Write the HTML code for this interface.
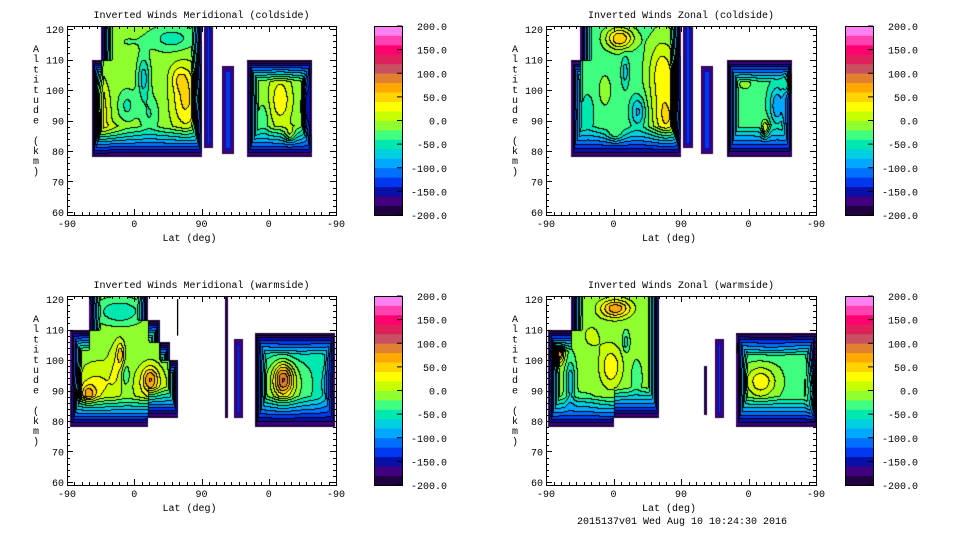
<!DOCTYPE html>
<html><head><meta charset="utf-8">
<style>
html,body{margin:0;padding:0;background:#fff;}
body{width:960px;height:540px;position:relative;overflow:hidden;font-family:"Liberation Mono",monospace;}
canvas{position:absolute;}
svg{position:absolute;left:0;top:0;}
svg text{font-family:"Liberation Mono",monospace;font-size:10px;fill:#000;}
</style></head>
<body>
<svg id="ov" width="960" height="540"></svg>
<script>
const levelColors=["#200040","#400080","#0810a8","#0038f0","#0070ff","#00a8ff","#00d0e0","#00e8b0","#40ff80","#90ff30","#c8ff00","#ffff00","#ffd400","#ffa800","#e08030","#c85060","#e0205a","#ff0070","#ff40b0","#ff80f0"];
const cbTicks=[200,150,100,50,0,-50,-100,-150,-200];
const yTicks=[60,70,80,90,100,110,120];
const xTickPos=[0,90,180,270,360];
const xTickLabels=["-90","0","90","0","-90"];

// ---- Panel 1: Meridional coldside ----
const mcSegX0=[33,45,183,207,241], mcSegX1=[180,180,196,223,328];
const mcSegA0=[78,78,81,79,78], mcSegA1=[110,121,121,108,110];
const mcSegBase=[-10,-10,-130,-140,-10];
const mcBlobX=[37,45,60,102,80,110,158,150,140,80,285,298,320,262];
const mcBlobAlt=[98,92,86,104,95,92,97,104,117,116,97,85,95,90];
const mcBlobVal=[80,40,25,-60,-35,-30,55,30,-40,-10,45,70,-110,-25];
const mcBlobRx=[8,12,20,8,12,12,18,12,30,20,14,8,5,8];
const mcBlobRy=[6,10,3,7,5,6,10,4,4,3,8,2.5,8,6];

// ---- Panel 2: Zonal coldside ----
const zcSegX0=[33,45,183,207,241], zcSegX1=[180,180,196,223,328];
const zcSegA0=[78,78,81,79,78], zcSegA1=[110,121,121,108,110];
const zcSegBase=[-30,-30,-130,-140,-35];
const zcBlobX=[155,160,98,105,122,78,92,55,308,292,322,265];
const zcBlobAlt=[105,90,117,106,93,100,85,92,95,87,102,102];
const zcBlobVal=[65,60,90,-40,-55,25,55,-20,-65,70,110,25];
const zcBlobRx=[20,18,18,5,10,8,12,10,10,5,5,10];
const zcBlobRy=[12,8,3.5,5,5,5,2.5,8,6,3,3,2];

// ---- Panel 3: Meridional warmside ----
const mwSegX0=[4,30,91,91,91,211,223,251], mwSegX1=[91,108,124,138,148,215,235,359];
const mwSegA0=[78,78,81,81,81,81,81,78], mwSegA1=[110,121,113,106,100,121,107,109];
const mwSegBase=[-10,-10,-10,-10,-10,-170,-140,-45];
const mwBlobX=[28,40,71,65,78,111,110,70,10,289,289,350,300];
const mwBlobAlt=[89,92,102,98,95,94,92,116,100,94,92,92,104];
const mwBlobVal=[60,35,50,25,-30,60,35,-50,-40,90,60,-40,-20];
const mwBlobRx=[10,25,5,10,6,10,20,30,6,12,25,10,40];
const mwBlobRy=[3,7,4,8,4,4,6,4,10,5,8,8,4];

// ---- Panel 4: Zonal warmside ----
const zwSegX0=[3,33,90,211,225,253], zwSegX1=[90,90,150,215,237,360];
const zwSegA0=[78,78,81,82,81,78], zwSegA1=[110,121,121,98,107,109];
const zwSegBase=[-15,-15,-15,-170,-140,-25];
const zwBlobX=[92,86,60,16,32,106,120,45,286,356,300];
const zwBlobAlt=[117,98,108,102,93,106,94,86,93,90,104];
const zwBlobVal=[90,50,20,100,-60,-40,-25,-20,60,90,-30];
const zwBlobRx=[20,15,15,7,6,4,6,25,20,7,50];
const zwBlobRy=[3,7,5,3,7,3,5,3,5,7,3];

const panels=[
 {name:"meridional-coldside",title:"Inverted Winds Meridional (coldside)",x0:67,y0:26,w:269,h:189,cb:374,
  sx0:mcSegX0,sx1:mcSegX1,sa0:mcSegA0,sa1:mcSegA1,sb:mcSegBase,bx:mcBlobX,ba:mcBlobAlt,bv:mcBlobVal,brx:mcBlobRx,bry:mcBlobRy},
 {name:"zonal-coldside",title:"Inverted Winds Zonal (coldside)",x0:546,y0:26,w:270,h:189,cb:845,
  sx0:zcSegX0,sx1:zcSegX1,sa0:zcSegA0,sa1:zcSegA1,sb:zcSegBase,bx:zcBlobX,ba:zcBlobAlt,bv:zcBlobVal,brx:zcBlobRx,bry:zcBlobRy},
 {name:"meridional-warmside",title:"Inverted Winds Meridional (warmside)",x0:67,y0:296,w:269,h:189,cb:374,
  sx0:mwSegX0,sx1:mwSegX1,sa0:mwSegA0,sa1:mwSegA1,sb:mwSegBase,bx:mwBlobX,ba:mwBlobAlt,bv:mwBlobVal,brx:mwBlobRx,bry:mwBlobRy},
 {name:"zonal-warmside",title:"Inverted Winds Zonal (warmside)",x0:546,y0:296,w:270,h:189,cb:845,
  sx0:zwSegX0,sx1:zwSegX1,sa0:zwSegA0,sa1:zwSegA1,sb:zwSegBase,bx:zwBlobX,ba:zwBlobAlt,bv:zwBlobVal,brx:zwBlobRx,bry:zwBlobRy}
];

const ALT_MIN=59, ALT_MAX=121;
function hex(c){return [parseInt(c.substr(1,2),16),parseInt(c.substr(3,2),16),parseInt(c.substr(5,2),16)];}
const rgb=levelColors.map(hex);
const NS="http://www.w3.org/2000/svg";
const ov=document.getElementById('ov');
function mk(tag,attrs,parent){const e=document.createElementNS(NS,tag);for(const k in attrs)e.setAttribute(k,attrs[k]);(parent||ov).appendChild(e);return e;}
function txt(x,y,s,anchor,parent){const t=mk('text',{x:x,y:y,'text-anchor':anchor||'start'},parent);t.textContent=s;return t;}

panels.forEach(p=>{
  const xs=u=>p.x0+u/360*p.w;
  const ys=a=>p.y0+(ALT_MAX-a)/(ALT_MAX-ALT_MIN)*p.h;
  const W=p.w,H=p.h,N=W*H;
  const cv=document.createElement('canvas');
  cv.width=W;cv.height=H;cv.style.left=p.x0+'px';cv.style.top=p.y0+'px';
  
  
  document.body.insertBefore(cv,ov);
  const ctx=cv.getContext('2d');
  const img=ctx.createImageData(W,H);
  const seg=new Int16Array(N).fill(-1);
  for(let py=0;py<H;py++)for(let px=0;px<W;px++){
    const u=(px+0.5)/W*360, a=ALT_MAX-(py+0.5)/H*(ALT_MAX-ALT_MIN);
    for(let s=0;s<p.sx0.length;s++){
      if(u>=p.sx0[s]&&u<=p.sx1[s]&&a>=p.sa0[s]&&a<=p.sa1[s]){seg[py*W+px]=s;break;}
    }
  }
  const isSmall=s=>(p.sx1[s]-p.sx0[s])<30;
  const dL=new Float32Array(N),dR=new Float32Array(N),dU=new Float32Array(N),dD=new Float32Array(N);
  for(let py=0;py<H;py++){
    let c=0;for(let px=0;px<W;px++){const i=py*W+px;c=seg[i]<0?0:c+1;dL[i]=c;}
    c=0;for(let px=W-1;px>=0;px--){const i=py*W+px;c=seg[i]<0?0:c+1;dR[i]=c;}
  }
  for(let px=0;px<W;px++){
    let c=1e6;for(let py=0;py<H;py++){const i=py*W+px;c=seg[i]<0?0:c+1;dU[i]=c;}
    c=0;for(let py=H-1;py>=0;py--){const i=py*W+px;c=seg[i]<0?0:c+1;dD[i]=c;}
  }
  const lv=new Int16Array(N).fill(-1);
  for(let py=0;py<H;py++)for(let px=0;px<W;px++){
    const i=py*W+px,s=seg[i];if(s<0)continue;
    const u=(px+0.5)/W*360, a=ALT_MAX-(py+0.5)/H*(ALT_MAX-ALT_MIN);
    const sm=isSmall(s);
    const Es=sm?5:12, Eb=sm?7:32, Et=sm?7:22;
    let f=Math.min(dL[i]/Es,dR[i]/Es,dD[i]/Eb,dU[i]/Et,1);
    let v=p.sb[s];
    if(!sm){
      for(let b=0;b<p.bx.length;b++){
        const dx=(u-p.bx[b])/p.brx[b], dy=(a-p.ba[b])/p.bry[b];
        v+=p.bv[b]*Math.exp(-(dx*dx+dy*dy));
      }
    }
    v=-200+(v+200)*Math.pow(f,0.85);
    let idx=Math.floor((v+200)/20);idx=Math.max(0,Math.min(19,idx));
    lv[i]=idx;
  }
  for(let py=0;py<H;py++)for(let px=0;px<W;px++){
    const i=py*W+px,l=lv[i];if(l<0)continue;
    let c=rgb[l];
    if(!isSmall(seg[i])&&l>0){
      const L=px>0?lv[i-1]:-1, U=py>0?lv[i-W]:-1;
      if((L>=0&&L!==l)||(U>=0&&U!==l))c=[0,0,0];
    }
    img.data[i*4]=c[0];img.data[i*4+1]=c[1];img.data[i*4+2]=c[2];img.data[i*4+3]=255;
  }
  ctx.putImageData(img,0,0);

  const g=mk('g',{});
  
  
  const t=txt(p.x0+p.w/2,p.y0-8,p.title,'middle',g);
  
  
  mk('rect',{x:p.x0+0.5,y:p.y0+0.5,width:p.w,height:p.h,fill:'none',stroke:'#000','stroke-width':1},g);
  for(let a=60;a<=120;a+=2){
    const y=Math.round(ys(a))+0.5, len=(a%10===0)?6:3;
    mk('line',{x1:p.x0,y1:y,x2:p.x0+len,y2:y,stroke:'#000'},g);
    mk('line',{x1:p.x0+p.w,y1:y,x2:p.x0+p.w-len,y2:y,stroke:'#000'},g);
  }
  yTicks.forEach(a=>{const l=txt(p.x0-3,ys(a)+4,String(a),'end',g);
    
    });
  for(let u=0;u<=360;u+=10){
    const x=Math.round(xs(u))+0.5, len=(u%90===0)?6:3;
    mk('line',{x1:x,y1:p.y0+p.h,x2:x,y2:p.y0+p.h-len,stroke:'#000'},g);
    mk('line',{x1:x,y1:p.y0,x2:x,y2:p.y0+len,stroke:'#000'},g);
  }
  xTickPos.forEach((u,i)=>{const l=txt(xs(u),p.y0+p.h+12,xTickLabels[i],'middle',g);
    
    });
  const xl=txt(p.x0+p.w/2-12,p.y0+p.h+26,'Lat (deg)','middle',g);
  
  
  const yl=mk('g',{},g);
  
  
  "Altitude (km)".split('').forEach((ch,i)=>{if(ch!==' ')txt(p.x0-31,p.y0+26+i*10.2,ch,'middle',yl);});
  const cb=mk('g',{},g);
  
  
  const bh=p.h/levelColors.length;
  levelColors.forEach((c,i)=>{mk('rect',{x:p.cb,y:p.y0+p.h-(i+1)*bh,width:28,height:bh+0.4,fill:c},cb);});
  mk('rect',{x:p.cb+0.5,y:p.y0+0.5,width:28,height:p.h,fill:'none',stroke:'#000'},cb);
  cbTicks.forEach(v=>{
    const y=p.y0+p.h-(v+200)/400*p.h;
    mk('line',{x1:p.cb+23,y1:y,x2:p.cb+28,y2:y,stroke:'#000'},cb);
    txt(p.cb+73,y+4,v.toFixed(1),'end',cb);
  });
});
const mwLineU=[148], mwLineA0=[108], mwLineA1=[120];
{const p=panels[2];
 mwLineU.forEach((u,i)=>{const x=p.x0+u/360*p.w;
  const l=mk('line',{x1:x,x2:x,y1:p.y0+(ALT_MAX-mwLineA1[i])/62*p.h,y2:p.y0+(ALT_MAX-mwLineA0[i])/62*p.h,stroke:'#000','stroke-width':1.3});
  
  });}
const foot=txt(682,524,'2015137v01 Wed Aug 10 10:24:30 2016','middle');


</script>
</body></html>
